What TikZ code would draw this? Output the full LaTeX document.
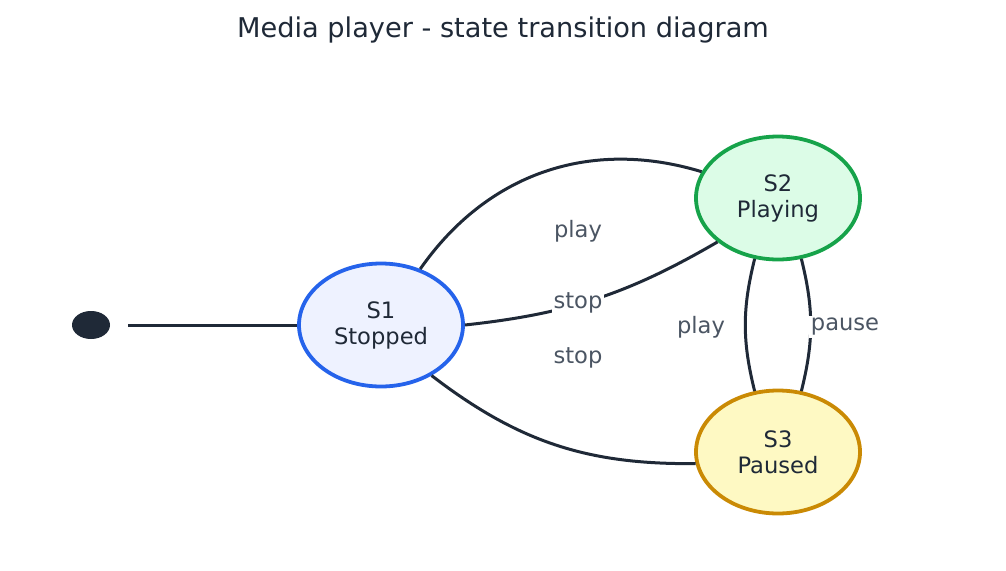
\documentclass[tikz,border=0pt]{standalone}
\usepackage{fontspec}
\setmainfont{DejaVu Sans}
\usetikzlibrary{shapes.geometric}
\definecolor{ink}{HTML}{1F2937}
\definecolor{labelgray}{HTML}{4B5563}
\definecolor{stopfill}{HTML}{EEF2FF}
\definecolor{stopline}{HTML}{2563EB}
\definecolor{playfill}{HTML}{DCFCE7}
\definecolor{playline}{HTML}{16A34A}
\definecolor{pausefill}{HTML}{FEF9C3}
\definecolor{pauseline}{HTML}{CA8A04}
\tikzset{
	state/.style={ellipse, draw, line width=3.8pt, minimum width=164pt, minimum height=123pt, inner sep=0pt, align=center, text=ink, font=\fontsize{22.6}{26}\selectfont},
	edge/.style={draw=ink, line width=3pt},
	lbl/.style={fill=white, inner sep=2pt, text=labelgray, font=\fontsize{22.6}{26}\selectfont}
}
\begin{document}
		\begin{tikzpicture}[x=1pt,y=-1pt]
			\useasboundingbox (0,0) rectangle (1006,570);
			%Title
			\node[text=ink, font=\fontsize{27.2}{32}\selectfont] (title) at (503,30) {Media player - state transition diagram};
			%States
			\node[ellipse, fill=ink, minimum width=38pt, minimum height=28pt, inner sep=0pt] (init) at (91,325) {};
			\node[state, draw=stopline, fill=stopfill] (s1) at (381,325) {S1\\Stopped};
			\node[state, draw=playline, fill=playfill] (s2) at (778,198) {S2\\Playing};
			\node[state, draw=pauseline, fill=pausefill] (s3) at (778,452) {S3\\Paused};
			%Transitions
			\draw[edge, shorten <=18pt] (init) -- (s1);
			\draw[edge] (s1.55) to[bend left=36] (s2.161);
			\draw[edge] (s1.0) to[bend right=12] (s2.216);
			\draw[edge] (s1.-45) to[bend right=19] (s3.188);
			\draw[edge] (s2.249) to[bend right=14] (s3.111);
			\draw[edge] (s2.291) to[bend left=14] (s3.69);
			%Labels
			\node[lbl] (playtop) at (578,231) {play};
			\node[lbl] (stopmid) at (578,303) {stop};
			\node[lbl] (stopbot) at (578,358) {stop};
			\node[lbl] (playside) at (701,327) {play};
			\node[lbl] (pauseside) at (845,327) {pause};
		\end{tikzpicture}
\end{document}
